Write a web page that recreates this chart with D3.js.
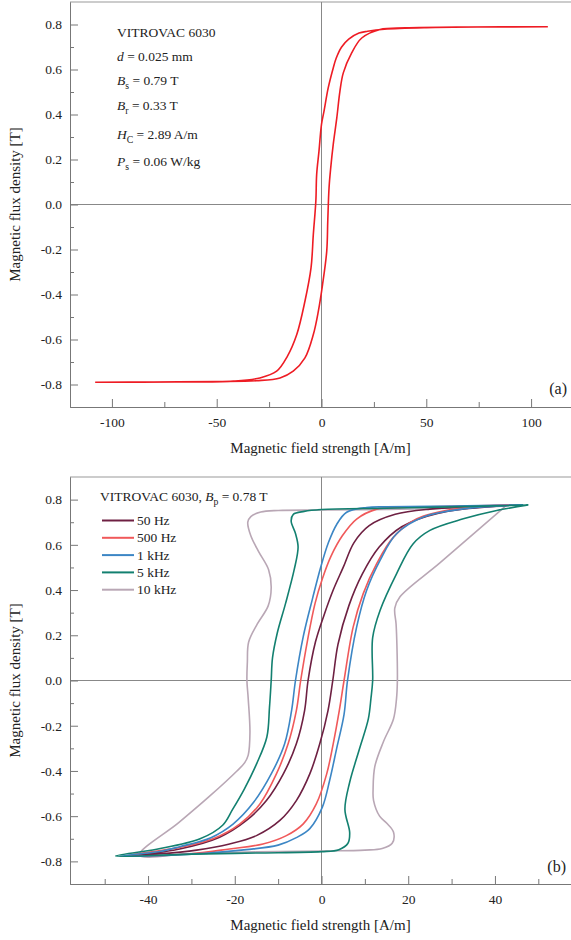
<!DOCTYPE html>
<html lang="en">
<head>
<meta charset="utf-8">
<title>VITROVAC 6030 hysteresis loops</title>
<script src="https://d3js.org/d3.v7.min.js"></script>
<style>
  body { margin: 0; background: #fff; }
  svg text { font-family: "Liberation Serif", "Times New Roman", serif; fill: #222; }
  .tick line, .domain { stroke: #777; }
</style>
</head>
<body>
<div id="chart"></div>
<script>
// ---------------- data ----------------
// tick values
var yTicks = [-0.8, -0.6, -0.4, -0.2, 0.0, 0.2, 0.4, 0.6, 0.8];
var yMinor = [-0.7, -0.5, -0.3, -0.1, 0.1, 0.3, 0.5, 0.7];
var xTicksA = [-100, -50, 0, 50, 100];
var xMinorA = [-75, -25, 25, 75];
var xTicksB = [-40, -20, 0, 20, 40];
var xMinorB = [-50, -30, -10, 10, 30, 50];

// panel (a): quasi-static loop [H (A/m), B (T)] ; descending branch then ascending branch
var loopStatic = [
  [108, 0.790], [80, 0.789], [50, 0.786], [30, 0.779], [22, 0.770], [17.9, 0.762], [13, 0.735],
  [9.6, 0.700], [7, 0.650], [5.6, 0.607], [3.2, 0.518], [1.2, 0.415], [0, 0.356], [-1.2, 0.237],
  [-2.3, 0.135], [-2.7, 0.015], [-3.9, -0.133], [-5.0, -0.282], [-7.9, -0.430], [-11.8, -0.578],
  [-16.3, -0.675], [-21.4, -0.741], [-29.4, -0.771], [-42, -0.785], [-70, -0.789], [-108, -0.790],
  [-80, -0.789], [-50, -0.787], [-31, -0.783], [-19.8, -0.771], [-13.5, -0.741], [-7.9, -0.682],
  [-3.9, -0.578], [-1.5, -0.474], [0.5, -0.356], [2.5, -0.207], [3.0, -0.07], [3.6, 0.074],
  [4.4, 0.163], [5.6, 0.267], [7.3, 0.385], [8.8, 0.504], [10.4, 0.585], [14.4, 0.674],
  [19.2, 0.740], [27.9, 0.778], [40, 0.785], [70, 0.789], [108, 0.790]
];

// panel (b): loops at different frequencies
var loop50Hz = [
  [44, 0.776], [25, 0.758], [17, 0.735], [11, 0.685], [7.5, 0.61], [5, 0.50], [2.7, 0.40],
  [0.6, 0.29], [-1.4, 0.17], [-3.1, 0.0], [-3.9, -0.133], [-5.8, -0.28], [-8.8, -0.413],
  [-12.7, -0.531], [-17.3, -0.619], [-23.5, -0.693], [-32.7, -0.745], [-44, -0.776],
  [-28.8, -0.75], [-21.2, -0.723], [-15, -0.686], [-9.6, -0.619], [-5.8, -0.531], [-2.7, -0.413],
  [-0.4, -0.28], [1.5, -0.133], [2.6, 0.0], [3.8, 0.16], [6.3, 0.33], [9.4, 0.47], [13.3, 0.59],
  [18.5, 0.68], [27, 0.74], [44, 0.776]
];
var loop500Hz = [
  [45, 0.776], [30, 0.770], [15, 0.763], [12.7, 0.758], [8.1, 0.714], [4.8, 0.64], [2.2, 0.55],
  [0.2, 0.45], [-1.5, 0.34], [-3.2, 0.18], [-4.8, 0.0], [-5.8, -0.133], [-7.7, -0.28],
  [-10.4, -0.413], [-14.2, -0.546], [-18.8, -0.634], [-25, -0.70], [-32.7, -0.738], [-45, -0.776],
  [-30, -0.766], [-21.2, -0.745], [-13.5, -0.723], [-8.1, -0.686], [-4.2, -0.634], [-1.2, -0.546],
  [1.2, -0.413], [2.7, -0.28], [4.1, -0.133], [5.2, 0.0], [7.3, 0.236], [9.6, 0.383], [12.7, 0.516],
  [16.6, 0.634], [22, 0.715], [31.1, 0.759], [45, 0.776]
];
var loop1kHz = [
  [46.5, 0.777], [30, 0.772], [15, 0.768], [10.4, 0.765], [5.8, 0.744], [3.5, 0.69], [1.6, 0.61],
  [-0.2, 0.50], [-2.1, 0.36], [-4.2, 0.195], [-6.0, 0.0], [-6.9, -0.133], [-8.5, -0.28],
  [-11.5, -0.41], [-15.7, -0.54], [-20.4, -0.635], [-25.5, -0.695], [-32.7, -0.735], [-37.3, -0.756],
  [-46.5, -0.777], [-30, -0.768], [-17.3, -0.748], [-10.0, -0.728], [-5.8, -0.695], [-2.7, -0.655],
  [0.2, -0.56], [1.9, -0.44], [3.5, -0.30], [5.2, -0.15], [6.0, 0.0], [8.1, 0.236], [10.4, 0.398],
  [13.5, 0.531], [17.3, 0.649], [23.5, 0.723], [32.7, 0.759], [46.5, 0.777]
];
var loop5kHz = [
  [47.7, 0.776], [30, 0.768], [15, 0.762], [0, 0.756], [-4, 0.748], [-6.5, 0.735], [-7.0, 0.705],
  [-6.0, 0.65], [-5.4, 0.59], [-6.3, 0.49], [-8.3, 0.34], [-10.2, 0.21], [-11.3, 0.10], [-11.6, 0.0],
  [-12.0, -0.12], [-12.6, -0.25], [-15.0, -0.37], [-17.8, -0.48], [-20.5, -0.57], [-22.8, -0.64],
  [-28, -0.70], [-38, -0.746], [-47.5, -0.776],
  [-30, -0.768], [-15, -0.763], [0, -0.757], [4, -0.748], [6.1, -0.72], [6.5, -0.673], [5.4, -0.57],
  [6.5, -0.45], [8.8, -0.30], [10.8, -0.17], [11.4, -0.08], [11.8, 0.0], [11.8, 0.19], [13.5, 0.31],
  [17.3, 0.472], [21.1, 0.604], [25, 0.664], [32.7, 0.715], [40.4, 0.752], [47.7, 0.776]
];
var loop10kHz = [
  [42.5, 0.772], [30, 0.762], [15, 0.757], [0, 0.754], [-10, 0.752], [-14, 0.745], [-16.3, 0.725],
  [-17, 0.70], [-16.3, 0.64], [-14.5, 0.57], [-12.2, 0.49], [-11.6, 0.41], [-12.3, 0.33],
  [-14.8, 0.25], [-16.8, 0.17], [-17.1, 0.08], [-17.2, 0.0], [-16.9, -0.08], [-16.5, -0.23],
  [-16.9, -0.33], [-17.7, -0.363], [-19.5, -0.40], [-26, -0.515], [-33, -0.63], [-42, -0.772],
  [-30, -0.765], [-15, -0.758], [0, -0.754], [10, -0.750], [14, -0.743], [16.3, -0.72],
  [16.6, -0.67], [15, -0.63], [13.4, -0.60], [12, -0.53], [11.9, -0.48], [12.3, -0.38],
  [14.3, -0.27], [16.6, -0.17], [17.3, -0.08], [17.5, 0.0], [17.4, 0.15], [17.2, 0.25],
  [16.9, 0.32], [18.1, 0.37], [27.3, 0.52], [42.5, 0.772]
];

var freqLabels = ["50 Hz", "500 Hz", "1 kHz", "5 kHz", "10 kHz"];
var freqColors = ["#6e2042", "#f0595a", "#3c86c5", "#138070", "#b9a7b5"];
var freqLoops = [loop50Hz, loop500Hz, loop1kHz, loop5kHz, loop10kHz];

// ---------------- drawing ----------------
var svg = d3.select("#chart").append("svg")
  .attr("width", 571)
  .attr("height", 940);

var fmt = function(d) { return d3.format(".1f")(d).replace("\u2212", "-"); };
var fmtX = function(d) { return String(d); };

function panel(top, bottom, xDomain, xMajor, xMinor) {
  var x = d3.scaleLinear().domain(xDomain).range([70, 573]);
  var y = d3.scaleLinear().domain([-0.9, 0.9]).range([bottom, top]);
  var g = svg.append("g");

  // top frame line
  g.append("line")
    .attr("x1", 70).attr("x2", 573)
    .attr("y1", y(0.9)).attr("y2", y(0.9))
    .style("stroke", "#999").style("stroke-width", 1.2);

  // zero lines
  g.append("line")
    .attr("x1", x(0)).attr("x2", x(0))
    .attr("y1", y(0.9)).attr("y2", y(-0.9))
    .style("stroke", "#888").style("stroke-width", 1);
  g.append("line")
    .attr("x1", 70).attr("x2", 573)
    .attr("y1", y(0)).attr("y2", y(0))
    .style("stroke", "#888").style("stroke-width", 1);

  // Y axis (ticks point inwards)
  g.append("g")
    .attr("transform", "translate(70,0)")
    .call(d3.axisLeft(y).tickValues(yMinor).tickSize(-4).tickSizeOuter(0).tickFormat(""));
  g.append("g")
    .attr("transform", "translate(70,0)")
    .call(d3.axisLeft(y).tickValues(yTicks).tickSize(-8).tickSizeOuter(0).tickPadding(8).tickFormat(fmt))
    .call(function(a) { a.selectAll("text").style("font-size", "13.5px").style("fill", "#222"); });

  // X axis
  g.append("g")
    .attr("transform", "translate(0," + bottom + ")")
    .call(d3.axisBottom(x).tickValues(xMinor).tickSize(-5).tickSizeOuter(0).tickFormat(""));
  g.append("g")
    .attr("transform", "translate(0," + bottom + ")")
    .call(d3.axisBottom(x).tickValues(xMajor).tickSize(-8).tickSizeOuter(0).tickPadding(10).tickFormat(fmtX))
    .call(function(a) { a.selectAll("text").style("font-size", "13.5px").style("fill", "#222"); });

  // axis titles
  g.append("text")
    .attr("x", (70 + 573) / 2 - 1)
    .attr("y", bottom + 46)
    .attr("text-anchor", "middle")
    .style("font-size", "15px")
    .text("Magnetic field strength [A/m]");
  g.append("text")
    .attr("transform", "translate(20," + ((top + bottom) / 2) + ") rotate(-90)")
    .attr("text-anchor", "middle")
    .style("font-size", "15px")
    .text("Magnetic flux density [T]");

  return { g: g, x: x, y: y };
}

// write a line made of [text, style] pieces: "i" italic, "sub" subscript
function richText(sel, xPos, yPos, pieces, size) {
  var t = sel.append("text").attr("x", xPos).attr("y", yPos).style("font-size", size + "px");
  var shifted = false;
  pieces.forEach(function(p) {
    var ts = t.append("tspan").text(p[0]);
    if (p[1] === "i") ts.style("font-style", "italic");
    if (p[1] === "sub") {
      ts.attr("dy", 4).style("font-size", (size * 0.72) + "px");
      shifted = true;
    } else if (shifted) {
      ts.attr("dy", -4);
      shifted = false;
    }
  });
  return t;
}

// ---------- panel (a) ----------
var pa = panel(2, 407, [-120, 120], xTicksA, xMinorA);
var lineA = d3.line()
  .x(function(d) { return pa.x(d[0]); })
  .y(function(d) { return pa.y(d[1]); })
  .curve(d3.curveCatmullRom.alpha(0.5));
pa.g.append("path")
  .datum(loopStatic)
  .attr("d", lineA)
  .style("fill", "none")
  .style("stroke", "#ee1c24")
  .style("stroke-width", 1.6);

var infoLines = [
  [["VITROVAC 6030", ""]],
  [["d", "i"], [" = 0.025 mm", ""]],
  [["B", "i"], ["s", "sub"], [" = 0.79 T", ""]],
  [["B", "i"], ["r", "sub"], [" = 0.33 T", ""]],
  [["H", "i"], ["C", "sub"], [" = 2.89 A/m", ""]],
  [["P", "i"], ["s", "sub"], [" = 0.06 W/kg", ""]]
];
var infoY = [37, 61, 85, 110, 139, 166];
infoLines.forEach(function(l, i) { richText(pa.g, 117, infoY[i], l, 13.5); });

pa.g.append("text")
  .attr("x", 567).attr("y", 394)
  .attr("text-anchor", "end")
  .style("font-size", "16px")
  .text("(a)");

// ---------- panel (b) ----------
var pb = panel(477, 884, [-58, 58], xTicksB, xMinorB);
var lineB = d3.line()
  .x(function(d) { return pb.x(d[0]); })
  .y(function(d) { return pb.y(d[1]); })
  .curve(d3.curveCatmullRom.alpha(0.5));

var drawOrder = [4, 0, 1, 2, 3];
drawOrder.forEach(function(i) {
  pb.g.append("path")
    .datum(freqLoops[i])
    .attr("d", lineB)
    .style("fill", "none")
    .style("stroke", freqColors[i])
    .style("stroke-width", 1.6);
});

richText(pb.g, 100, 501, [["VITROVAC 6030, ", ""], ["B", "i"], ["p", "sub"], [" = 0.78 T", ""]], 13.5);

var legend = pb.g.append("g");
legend.selectAll("line")
  .data(freqLabels)
  .enter()
  .append("line")
    .attr("x1", 102).attr("x2", 134)
    .attr("y1", function(d, i) { return 520.5 + i * 17.3; })
    .attr("y2", function(d, i) { return 520.5 + i * 17.3; })
    .style("stroke", function(d, i) { return freqColors[i]; })
    .style("stroke-width", 2);
legend.selectAll("text")
  .data(freqLabels)
  .enter()
  .append("text")
    .attr("x", 137)
    .attr("y", function(d, i) { return 525 + i * 17.3; })
    .style("font-size", "13.5px")
    .text(function(d) { return d; });

pb.g.append("text")
  .attr("x", 566).attr("y", 872)
  .attr("text-anchor", "end")
  .style("font-size", "16px")
  .text("(b)");
</script>
</body>
</html>
